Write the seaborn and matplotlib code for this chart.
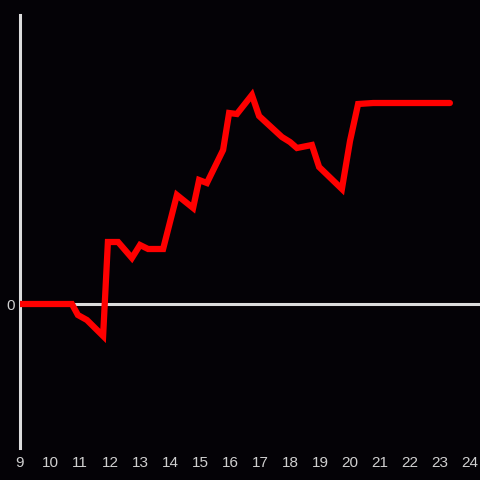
import numpy as np
import pandas as pd
import matplotlib
matplotlib.use("Agg")
import matplotlib.pyplot as plt
import seaborn as sns

# =========================================================
# data (hour of day, value)
# =========================================================

hours = [9.0, 10.73, 10.93, 11.23, 11.77, 11.93, 12.27, 12.73, 13.0, 13.27,
         13.77, 14.23, 14.77, 14.97, 15.23, 15.77, 15.97, 16.23, 16.73, 16.97,
         17.73, 18.0, 18.23, 18.73, 18.97, 19.73, 20.0, 20.27, 20.77, 23.33]
values = [0.0, 0.0, -0.11, -0.16, -0.32, 0.62, 0.62, 0.46, 0.59, 0.55,
          0.55, 1.09, 0.96, 1.24, 1.21, 1.54, 1.91, 1.90, 2.09, 1.88,
          1.67, 1.62, 1.56, 1.59, 1.37, 1.15, 1.63, 2.00, 2.01, 2.01]
xticks = list(range(9, 25))

df = pd.DataFrame({"hour": hours, "value": values})

bg = "#040206"
axis_col = "#dcdcdc"
text_col = "#cfcfcf"

sns.set_style("dark")
plt.rcParams["font.family"] = ["Liberation Sans", "DejaVu Sans"]

fig = plt.figure(figsize=(4.8, 4.8), dpi=100, facecolor=bg)
ax = fig.add_axes([20 / 480, 32 / 480, 460 / 480, 433 / 480])
ax.set_facecolor(bg)
ax.grid(False)

ax.axhline(0, color=axis_col, lw=2.2, zorder=1)

sns.lineplot(data=df, x="hour", y="value", color="#ff0000", lw=4.5,
             ax=ax, zorder=3, solid_joinstyle="miter")

ax.set_xlim(9, 24.333)
ax.set_ylim(-1.44, 2.89)

ax.set_xticks(xticks)
ax.set_xticklabels([str(t) for t in xticks])
ax.set_yticks([0])
ax.set_yticklabels(["0"])
ax.tick_params(axis="both", length=0, colors=text_col, labelsize=11)
ax.tick_params(axis="x", pad=6)
ax.tick_params(axis="y", pad=4)

for side in ["top", "right", "bottom"]:
    ax.spines[side].set_visible(False)
ax.spines["left"].set_color(axis_col)
ax.spines["left"].set_linewidth(2.2)

ax.set_xlabel("")
ax.set_ylabel("")

fig.savefig("out.png", dpi=100, facecolor=bg)
